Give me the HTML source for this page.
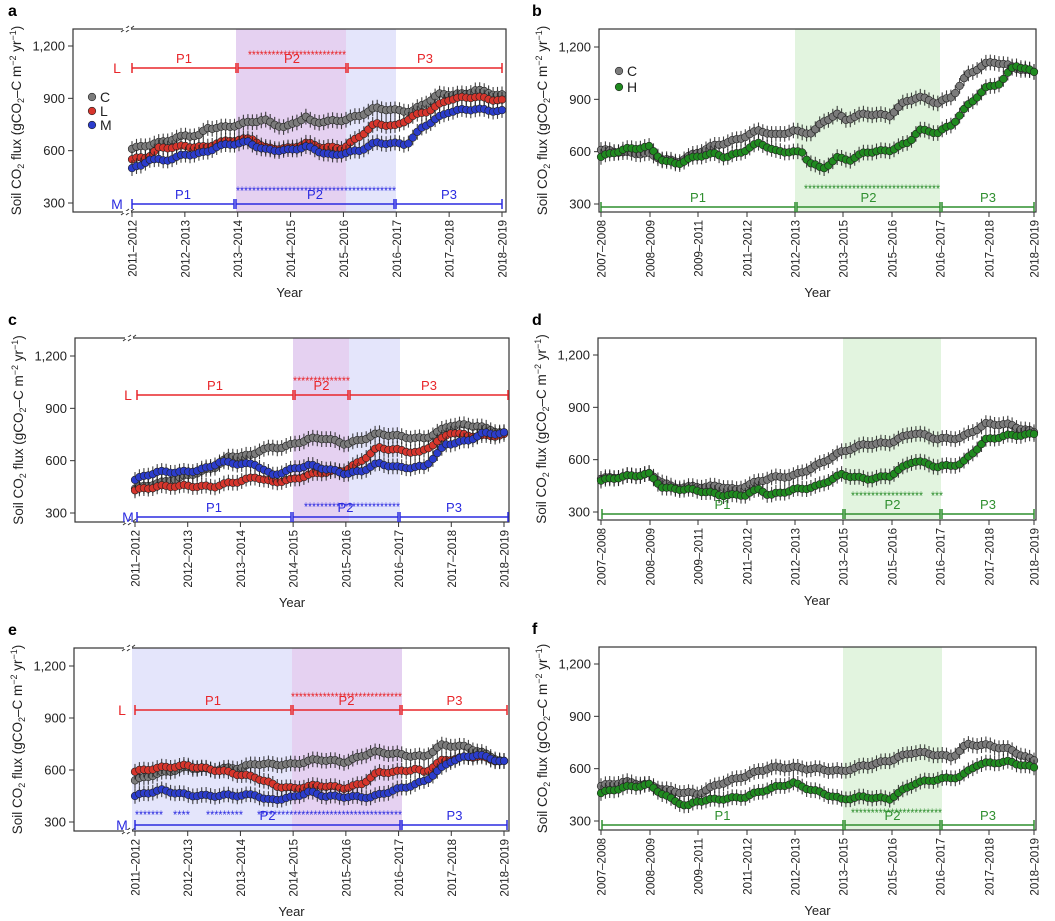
<!DOCTYPE html>
<html><head><meta charset="utf-8"><style>
body{margin:0;background:#fff}
svg{display:block;font-family:"Liberation Sans",Arial,sans-serif}
</style></head><body>
<svg id="s" width="1055" height="921" viewBox="0 0 1055 921" xmlns="http://www.w3.org/2000/svg"></svg>
<script>
const S=document.getElementById('s');let H='';
const GR='#7b7b7b',RD='#d7352c',BL='#2b3ccc',GN='#1f8a1f',LR='#e8262a',LB='#2b2be0',LG='#2f8f2f';
function interp(k,t){for(let i=0;i<k.length-1;i++){if(t<=k[i+1][0]){const a=k[i],b=k[i+1];return a[1]+(b[1]-a[1])*(t-a[0])/(b[0]-a[0]);}}return k[k.length-1][1];}
function panel(o){
 const {bx0,bx1,by0,by1,y300,y1200,ticks,labels}=o;
 const yv=v=>y300-(v-300)*(y300-y1200)/900;
 (o.shade||[]).forEach(s=>H+=`<rect x="${s[0]}" y="${by0}" width="${s[1]-s[0]}" height="${by1-by0}" fill="${s[2]}"/>`);
 H+=`<rect x="${bx0}" y="${by0}" width="${bx1-bx0}" height="${by1-by0}" fill="none" stroke="#333" stroke-width="1.2"/>`;
 [300,600,900,1200].forEach(v=>{const y=yv(v);H+=`<line x1="${bx0-5}" x2="${bx0}" y1="${y}" y2="${y}" stroke="#333"/><text x="${bx0-8}" y="${y+4.5}" font-size="13" text-anchor="end" fill="#222">${v==1200?'1,200':v}</text>`;});
 ticks.forEach((x,i)=>{H+=`<line x1="${x}" x2="${x}" y1="${by1}" y2="${by1+5}" stroke="#333"/><text transform="translate(${x+4.5},${by1+8}) rotate(-90)" font-size="11.5" text-anchor="end" fill="#222">${labels[i]}</text>`;});
 H+=`<text x="${(bx0+bx1)/2}" y="${by1+85}" font-size="13" text-anchor="middle" fill="#222">Year</text>`;
 const cy=(by0+by1)/2;
 H+=`<text transform="translate(${bx0-52},${cy}) rotate(-90)" font-size="13.5" text-anchor="middle" fill="#222">Soil CO<tspan font-size="9" dy="3">2</tspan><tspan dy="-3"> flux (gCO</tspan><tspan font-size="9" dy="3">2</tspan><tspan dy="-3">–C m</tspan><tspan font-size="9" dy="-5">−2</tspan><tspan dy="5"> yr</tspan><tspan font-size="9" dy="-5">−1</tspan><tspan dy="5">)</tspan></text>`;
 H+=`<text x="${o.lx}" y="${by0-13}" font-size="16" font-weight="bold" fill="#000">${o.letter}</text>`;
 if(o.brk){[by0,by1].forEach(y=>{H+=`<line x1="${bx0+48}" y1="${y+3}" x2="${bx0+56}" y2="${y-3}" stroke="#333"/><line x1="${bx0+53}" y1="${y+3}" x2="${bx0+61}" y2="${y-3}" stroke="#333"/><rect x="${bx0+50}" y="${y-1}" width="8" height="2" fill="#fff"/>`;});}
 (o.br||[]).forEach(b=>{const [y,segs,col,lab,labx]=b;
  if(lab)H+=`<text x="${labx}" y="${y+5}" font-size="14" fill="${col}" text-anchor="middle">${lab}</text>`;
  segs.forEach(s=>{H+=`<line x1="${s[0]}" x2="${s[1]}" y1="${y}" y2="${y}" stroke="${col}" stroke-width="1.5"/><line x1="${s[0]}" x2="${s[0]}" y1="${y-5}" y2="${y+5}" stroke="${col}" stroke-width="1.5"/><line x1="${s[1]}" x2="${s[1]}" y1="${y-5}" y2="${y+5}" stroke="${col}" stroke-width="1.5"/><text x="${(s[0]+s[1])/2}" y="${y-5}" font-size="13" fill="${col}" text-anchor="middle">${s[2]}</text>`;});});
 (o.stars||[]).forEach(s=>{const n=Math.round((s[1]-s[0])/4);H+=`<text x="${s[0]}" y="${s[2]+7}" font-size="12" fill="${s[3]}" textLength="${s[1]-s[0]}" lengthAdjust="spacingAndGlyphs">${'*'.repeat(Math.max(1,n))}</text>`;});
 const x0=ticks[0],x1=ticks[ticks.length-1],N=o.N,tmax=o.tmax;
 o.series.forEach(se=>{const [k,col]=se;let e='',c='';
  for(let i=0;i<N;i++){const t=tmax*i/(N-1);const x=x0+(x1-x0)*i/(N-1);const v=interp(k,t)+6*Math.sin(i*1.3)+4*Math.sin(i*0.37);const y=yv(v);const er=45*(y300-y1200)/900;
   e+=`M${x.toFixed(1)} ${(y-er).toFixed(1)}V${(y+er).toFixed(1)}`;c+=`<circle cx="${x.toFixed(1)}" cy="${y.toFixed(1)}" r="3.8" fill="${col}" stroke="#222" stroke-width="0.6"/>`;}
  H+=`<path d="${e}" stroke="#222" stroke-width="1.1" opacity="0.85"/>`+c;});
 (o.legend||[]).forEach(l=>{H+=`<circle cx="${l[0]}" cy="${l[1]}" r="3.8" fill="${l[2]}" stroke="#222" stroke-width="0.6"/><text x="${l[0]+8}" y="${l[1]+5}" font-size="14" fill="#222">${l[3]}</text>`;});
}
const LL=['2011–2012','2012–2013','2013–2014','2014–2015','2015–2016','2016–2017','2017–2018','2018–2019'];
const RL=['2007–2008','2008–2009','2009–2011','2011–2012','2012–2013','2013–2015','2015–2016','2016–2017','2017–2018','2018–2019'];
const lt=(a,b)=>LL.map((_,i)=>a+(b-a)*i/7);
const rt=[601,650,698,747,795,843,892,940,989,1034];
const PU='#e5d1f1',LBx='#e4e5fb',GS='#e2f4df';
panel({letter:'a',lx:8,bx0:73,bx1:506,by0:29,by1:212,y300:203,y1200:46,ticks:lt(132,502),labels:LL,brk:1,N:84,tmax:7,
 shade:[[236,346,PU],[346,396,LBx]],
 br:[[68,[[132,236,'P1'],[238,346,'P2'],[348,502,'P3']],LR,'L',117],[204,[[132,234,'P1'],[236,394,'P2'],[396,502,'P3']],LB,'M',117]],
 stars:[[248,346,52,LR],[236,396,188,LB]],
 legend:[[92,97,GR,'C'],[92,111,RD,'L'],[92,125,BL,'M']],
 series:[[[[0,610],[0.5,640],[1,690],[1.3,690],[1.4,730],[1.8,730],[2.3,770],[2.5,780],[2.9,730],[3.3,790],[3.4,760],[4,780],[4.3,800],[4.6,840],[5,830],[5.3,830],[5.8,920],[6.3,920],[6.5,950],[7,920]],GR],
 [[[0,550],[0.3,560],[0.5,610],[1,630],[1.4,620],[1.6,640],[2,660],[2.3,670],[2.5,620],[3,610],[3.3,640],[3.6,620],[4,620],[4.3,680],[4.6,750],[5,740],[5.3,800],[5.6,830],[6,890],[6.5,910],[7,890]],RD],
 [[[0,500],[0.2,510],[0.3,550],[0.6,540],[1,580],[1.4,590],[1.6,620],[2,640],[2.2,650],[2.5,610],[3,600],[3.3,620],[3.6,590],[3.8,575],[4,590],[4.3,600],[4.6,640],[5,640],[5.2,640],[5.5,740],[6,820],[6.5,840],[7,830]],BL]]});
panel({letter:'c',lx:8,bx0:75,bx1:509,by0:338,by1:522,y300:513,y1200:356,ticks:lt(135,504),labels:LL,brk:1,N:84,tmax:7,
 shade:[[293,349,PU],[349,400,LBx]],
 br:[[395,[[137,293,'P1'],[295,348,'P2'],[350,508,'P3']],LR,'L',128],[517,[[137,291,'P1'],[293,398,'P2'],[400,508,'P3']],LB,'M',128]],
 stars:[[293,350,378,LR],[304,400,504,LB]],
 series:[[[[0,440],[0.5,470],[1,520],[1.5,560],[1.8,620],[2.2,630],[2.4,670],[2.8,680],[3,690],[3.3,720],[3.6,730],[4,700],[4.3,720],[4.6,750],[5,740],[5.5,730],[6,800],[6.5,800],[7,760]],GR],
 [[[0,430],[0.5,450],[1,460],[1.5,450],[2,480],[2.3,510],[2.6,480],[3,490],[3.5,530],[4,550],[4.3,600],[4.6,670],[5,660],[5.4,650],[5.8,720],[6,760],[6.3,740],[7,750]],RD],
 [[[0,490],[0.4,530],[1,540],[1.4,560],[1.6,590],[1.9,580],[2.3,580],[2.6,520],[3,550],[3.3,570],[3.7,550],[4,530],[4.3,540],[4.6,580],[5,560],[5.5,570],[5.9,690],[6.3,710],[6.6,760],[7,760]],BL]]});
panel({letter:'e',lx:8,bx0:74,bx1:509,by0:648,by1:831,y300:822,y1200:666,ticks:lt(135,504),labels:LL,brk:1,N:84,tmax:7,
 shade:[[132,292,LBx],[292,402,PU]],
 br:[[710,[[135,291,'P1'],[293,400,'P2'],[402,507,'P3']],LR,'L',122],[825,[[135,400,'P2'],[402,507,'P3']],LB,'M',122]],
 stars:[[135,163,812,LB],[173,190,812,LB],[206,243,812,LB],[257,402,812,LB],[291,402,694,LR]],
 series:[[[[0,540],[0.5,580],[1,620],[1.5,600],[2,610],[2.3,640],[3,630],[3.5,660],[4,650],[4.5,700],[5,690],[5.5,680],[5.8,740],[6.3,730],[6.6,700],[7,650]],GR],
 [[[0,590],[0.5,610],[1,630],[1.5,600],[2,570],[2.3,560],[2.7,510],[3,490],[3.5,510],[4,500],[4.3,520],[4.6,580],[5,590],[5.3,610],[5.5,590],[5.8,650],[6.5,680],[7,650]],RD],
 [[[0,450],[0.5,480],[1,460],[1.5,450],[2,450],[2.3,460],[2.5,430],[3,440],[3.3,470],[3.6,450],[4,450],[4.5,440],[5,490],[5.5,540],[6,650],[6.5,690],[7,650]],BL]]});
panel({letter:'b',lx:532,bx0:599,bx1:1036,by0:29,by1:212,y300:204,y1200:47,ticks:rt,labels:RL,N:100,tmax:9,
 shade:[[795,940,GS]],
 br:[[207,[[601,795,'P1'],[797,940,'P2'],[942,1034,'P3']],LG]],
 stars:[[804,940,186,LG]],
 legend:[[619,71,GR,'C'],[619,87,GN,'H']],
 series:[[[[0,610],[0.5,590],[1,590],[1.3,560],[1.6,540],[2,590],[2.4,640],[2.8,670],[3,690],[3.3,720],[3.6,690],[4,720],[4.4,710],[4.6,770],[4.9,810],[5.1,780],[5.5,820],[6,810],[6.3,880],[6.6,910],[7,880],[7.3,920],[7.6,1040],[8,1100],[8.2,1110],[8.5,1090],[9,1060]],GR],
 [[[0,570],[0.5,610],[1,630],[1.3,550],[1.6,530],[2,570],[2.4,590],[2.6,570],[3,610],[3.3,650],[3.6,600],[4.2,600],[4.3,550],[4.6,500],[4.9,560],[5.2,550],[5.5,600],[6,610],[6.4,650],[6.6,720],[7,710],[7.3,760],[7.6,860],[8,960],[8.3,990],[8.6,1100],[9,1060]],GN]]});
panel({letter:'d',lx:532,bx0:598,bx1:1036,by0:338,by1:520,y300:512,y1200:355,ticks:rt,labels:RL,N:100,tmax:9,
 shade:[[843,941,GS]],
 br:[[514,[[602,843,'P1'],[845,940,'P2'],[942,1034,'P3']],LG]],
 stars:[[851,923,493,LG],[931,943,493,LG]],
 series:[[[[0,490],[0.5,500],[1,520],[1.5,440],[2,440],[2.5,450],[2.8,430],[3,450],[3.5,490],[4,510],[4.5,570],[5,640],[5.5,690],[6,700],[6.5,750],[7,720],[7.5,730],[8,800],[8.5,800],[9,760]],GR],
 [[[0,480],[0.5,500],[1,520],[1.3,440],[2,420],[2.5,400],[3,400],[3.3,430],[3.5,390],[4,430],[4.5,450],[5,510],[5.5,490],[6,510],[6.5,590],[7,560],[7.5,580],[8,710],[8.5,740],[9,750]],GN]]});
panel({letter:'f',lx:532,bx0:599,bx1:1036,by0:647,by1:830,y300:821,y1200:664,ticks:rt,labels:RL,N:100,tmax:9,
 shade:[[843,942,GS]],
 br:[[825,[[602,843,'P1'],[845,940,'P2'],[942,1034,'P3']],LG]],
 stars:[[851,942,810,LG]],
 series:[[[[0,500],[0.5,520],[1,510],[1.5,470],[2,450],[2.5,520],[3,560],[3.5,600],[4,610],[4.5,600],[5,580],[5.5,620],[6,650],[6.5,690],[7,680],[7.3,670],[7.6,740],[8,730],[8.5,710],[9,650]],GR],
 [[[0,460],[0.5,490],[1,510],[1.5,420],[1.8,380],[2,410],[2.5,430],[3,440],[3.5,480],[4,520],[4.5,470],[5,420],[5.5,440],[6,430],[6.5,510],[7,540],[7.5,560],[7.8,620],[8.5,640],[9,610]],GN]]});
S.innerHTML=H;
</script>
</body></html>
